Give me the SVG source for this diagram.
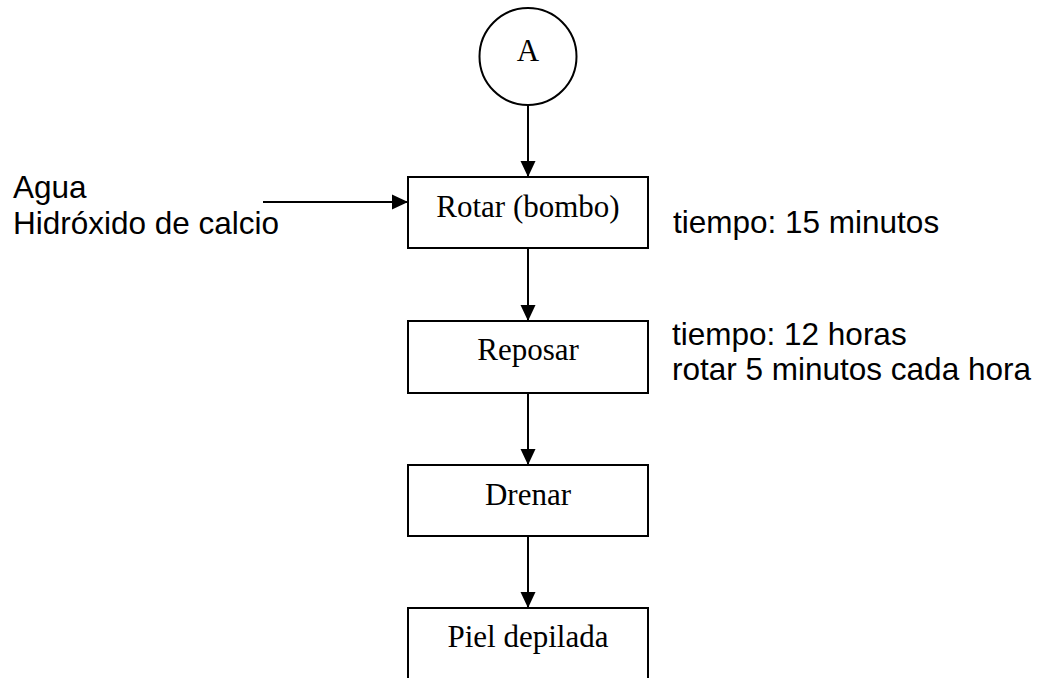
<svg xmlns="http://www.w3.org/2000/svg" width="1041" height="678" viewBox="0 0 1041 678">
<style>
.box{fill:#fff;stroke:#000;stroke-width:2}
.ln{stroke:#000;stroke-width:2;fill:none}
.serif{font-family:"Liberation Serif","Times New Roman",serif;font-size:31px;fill:#000;text-anchor:middle}
.sans{font-family:"Liberation Sans",Arial,sans-serif;font-size:31.5px;fill:#000}
</style>
<defs>
<marker id="ah" markerUnits="userSpaceOnUse" markerWidth="16" markerHeight="16" viewBox="0 0 16 16" refX="16" refY="8" orient="auto">
<path d="M0,0.5 L16,8 L0,15.5 Z" fill="#000"/>
</marker>
</defs>
<rect width="1041" height="678" fill="#fff"/>
<g id="connectors">
<line class="ln" x1="528" y1="105" x2="528" y2="177" marker-end="url(#ah)"/>
<line class="ln" x1="263" y1="202" x2="408" y2="202" marker-end="url(#ah)"/>
<line class="ln" x1="528" y1="248" x2="528" y2="321" marker-end="url(#ah)"/>
<line class="ln" x1="528" y1="393" x2="528" y2="465" marker-end="url(#ah)"/>
<line class="ln" x1="528" y1="536" x2="528" y2="608" marker-end="url(#ah)"/>
</g>
<g id="nodeA">
<circle class="box" cx="528" cy="56.5" r="48.5"/>
<text class="serif" x="528" y="61">A</text>
</g>
<g id="inputs">
<text class="sans" x="13" y="198">Agua</text>
<text class="sans" x="13" y="234">Hidróxido de calcio</text>
</g>
<g id="rotar">
<rect class="box" x="408" y="177" width="240" height="71"/>
<text class="serif" x="528" y="217">Rotar (bombo)</text>
</g>
<g id="note1">
<text class="sans" x="673" y="233">tiempo: 15 minutos</text>
</g>
<g id="reposar">
<rect class="box" x="408" y="321" width="240" height="72"/>
<text class="serif" x="528" y="360">Reposar</text>
</g>
<g id="note2">
<text class="sans" x="672" y="345">tiempo: 12 horas</text>
<text class="sans" x="672" y="380">rotar 5 minutos cada hora</text>
</g>
<g id="drenar">
<rect class="box" x="408" y="465" width="240" height="71"/>
<text class="serif" x="528" y="505">Drenar</text>
</g>
<g id="piel">
<rect class="box" x="408" y="608" width="240" height="90"/>
<text class="serif" x="528" y="647">Piel depilada</text>
</g>
</svg>
